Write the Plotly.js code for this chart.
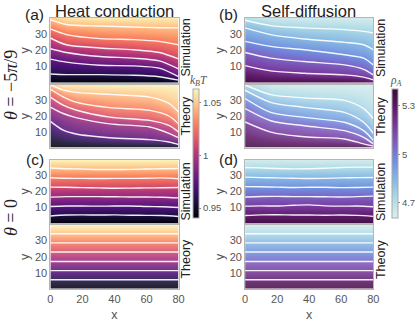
<!DOCTYPE html>
<html>
<head>
<meta charset="utf-8">
<script src="https://cdn.plot.ly/plotly-3.0.1.min.js"></script>
<style>html,body{margin:0;padding:0;background:#fff}#plot{width:415px;height:323px}</style>
</head>
<body>
<div id="plot"></div>
<script>
const W = 415, H = 323;

// value grid
const rowsY = [0, 5, 10, 15, 20, 25, 30, 35, 40];
const colsLeft = [0, 10, 31, 52, 68, 80];
const colsLeftTheory = [0, 8, 16, 37, 62, 74, 80];
const colsRight = [0, 16, 37, 62, 74, 80];
const colsFlat = [0, 80];
const xWiggle = [0, 10, 20, 30, 40, 50, 60, 70, 80];

// kBT fields: one row per rowsY
const zA_sim = [
  [.940, .940, .940, .940, .940, .945],
  [.957, .958, .958, .960, .963, .980],
  [.967, .969, .973, .974, .979, .997],
  [.976, .982, .989, .993, .998, 1.011],
  [.990, .998, 1.005, 1.009, 1.014, 1.021],
  [1.003, 1.015, 1.021, 1.024, 1.027, 1.031],
  [1.018, 1.029, 1.034, 1.036, 1.038, 1.040],
  [1.034, 1.043, 1.046, 1.047, 1.048, 1.048],
  [1.050, 1.058, 1.060, 1.060, 1.060, 1.060]
];
const zA_th = [
  [.940, .940, .940, .940, .940, .940, .945],
  [.951, .956, .960, .968, .975, .980, .988],
  [.961, .972, .977, .983, .986, .996, 1.011],
  [.972, .981, .986, .993, 1.001, 1.013, 1.028],
  [.982, .990, .997, 1.012, 1.018, 1.028, 1.040],
  [.992, 1.004, 1.014, 1.027, 1.031, 1.039, 1.048],
  [1.005, 1.021, 1.032, 1.038, 1.042, 1.049, 1.053],
  [1.021, 1.040, 1.046, 1.049, 1.052, 1.056, 1.058],
  [1.050, 1.060, 1.060, 1.062, 1.063, 1.063, 1.063]
];
const zC_sim = [
  [.940, .940], [.955, .955], [.971, .970], [.986, .985], [1.001, 1.000],
  [1.017, 1.016], [1.032, 1.032], [1.048, 1.048], [1.063, 1.063]
];
const zC_th = [
  [.940, .940], [.955, .955], [.971, .971], [.986, .986], [1.001, 1.001],
  [1.017, 1.017], [1.032, 1.032], [1.048, 1.048], [1.063, 1.063]
];

// rho_A fields
const zB_sim = [
  [5.38, 5.38, 5.38, 5.38, 5.36, 5.30],
  [5.28, 5.23, 5.19, 5.16, 5.13, 5.05],
  [5.18, 5.13, 5.11, 5.08, 5.03, 4.97],
  [5.11, 5.06, 5.03, 4.99, 4.95, 4.90],
  [5.04, 4.99, 4.95, 4.91, 4.88, 4.84],
  [4.96, 4.91, 4.87, 4.84, 4.82, 4.79],
  [4.89, 4.84, 4.80, 4.78, 4.76, 4.75],
  [4.82, 4.75, 4.72, 4.71, 4.70, 4.69],
  [4.70, 4.65, 4.64, 4.63, 4.63, 4.63]
];
const zB_th = [
  [5.38, 5.38, 5.38, 5.38, 5.36, 5.28],
  [5.32, 5.27, 5.23, 5.18, 5.10, 4.94],
  [5.25, 5.17, 5.12, 5.08, 4.97, 4.83],
  [5.19, 5.09, 5.04, 4.97, 4.87, 4.78],
  [5.10, 5.00, 4.93, 4.88, 4.79, 4.73],
  [5.06, 4.90, 4.85, 4.80, 4.74, 4.70],
  [4.97, 4.81, 4.76, 4.74, 4.70, 4.67],
  [4.86, 4.72, 4.70, 4.68, 4.66, 4.65],
  [4.73, 4.65, 4.63, 4.63, 4.63, 4.63]
];
const zD_sim = [
  [5.38, 5.38], [5.29, 5.29], [5.19, 5.19], [5.10, 5.10], [5.00, 5.00],
  [4.91, 4.91], [4.82, 4.82], [4.72, 4.72], [4.63, 4.63]
];
const zD_th = [
  [5.38, 5.38], [5.29, 5.29], [5.19, 5.19], [5.10, 5.10], [5.005, 5.005],
  [4.91, 4.91], [4.82, 4.82], [4.72, 4.72], [4.63, 4.63]
];

// white level lines, y at each x column
const linesA_sim = [
  [39, 36, 35, 34.4, 34, 33.9],
  [33.2, 29.7, 27.2, 26.6, 25.5, 23.4],
  [27.6, 23.4, 21.4, 20.3, 18.6, 14.7],
  [20.9, 18.6, 16.1, 15.1, 13.4, 8.4],
  [14.5, 12.6, 10.7, 10.3, 8.9, 3.6],
  [5.3, 4.9, 4.9, 4.5, 3.6, 1.5]
];
const linesA_th = [
  [39.7, 36.5, 35, 33.7, 32, 28, 22.5],
  [37, 32.2, 28.8, 25.3, 23.6, 20, 15],
  [32, 26.9, 23.8, 19.3, 17.2, 14, 9.8],
  [25.7, 21.6, 19, 15, 13, 9, 6.2],
  [16.6, 11, 8.6, 6.2, 5, 3.5, 1.9]
];
const linesB_sim = [
  [38.6, 35.3, 33.9, 32.8, 31.7, 30.7],
  [33.9, 29.7, 27, 24.9, 23.4, 20.3],
  [25.5, 22.4, 20.3, 17.2, 15.1, 10.9],
  [18.6, 15.1, 13, 10.9, 8.2, 4.7],
  [10.5, 7.2, 5.7, 4.7, 3.3, 1.6]
];
const linesB_th = [
  [39.7, 33.6, 31.5, 29.9, 24.7, 18.4],
  [36.4, 28.7, 25.5, 22.3, 16, 9],
  [31.1, 22.3, 19.1, 16, 10.7, 4.5],
  [24.7, 17, 13.8, 10.7, 6.5, 2.3],
  [16.2, 9.8, 6.8, 5.4, 2.3, 0.9]
];
const linesC_sim = [
  [34.6, 34.2, 34, 33.7, 33.7, 33.8, 34, 34.2, 34.3],
  [28.5, 28.2, 28.1, 28, 28.1, 28.1, 28.2, 28.4, 27.9],
  [22.6, 22.5, 22.3, 22.1, 21.9, 22, 22.1, 22.2, 22.4],
  [16.3, 16.6, 16.6, 16.6, 16.5, 16.4, 16.4, 16.2, 15.8],
  [10.4, 10.7, 10.7, 10.6, 10.7, 10.7, 10.4, 10.2, 9.8],
  [4.4, 5, 5.1, 5, 5.1, 4.9, 4.8, 4.7, 4.1]
];
const linesD_sim = [
  [35, 34.7, 34.3, 34.1, 34.2, 34.5, 35, 35.2, 35.2],
  [28.9, 28.6, 28.4, 28.2, 28, 28.1, 28.4, 28.6, 28.7],
  [22.9, 22.8, 22.6, 22.4, 22.5, 22.5, 22.3, 22.4, 22.6],
  [16.4, 16.7, 16.8, 16.6, 16.6, 16.5, 16.4, 16.6, 16.9],
  [10.6, 10.8, 10.7, 11.2, 11.4, 10.8, 10.6, 10.7, 10.2],
  [4.7, 5.1, 5.2, 5, 5, 4.9, 5, 4.8, 4.2]
];
const linesFlat_th = [
  [34.3, 34.3], [28.6, 28.6], [22.9, 22.9], [17.1, 17.1], [11.4, 11.4], [5.7, 5.7]
];

const kbtTicks = [0.95, 1, 1.05];
const kbtLabels = ['0.95', '1', '1.05'];
const rhoTicks = [4.7, 5, 5.3];
const rhoLabels = ['4.7', '5', '5.3'];

const magma = [[0, '#000004'], [.125, '#1c1044'], [.25, '#4f127b'], [.375, '#812581'], [.5, '#b5367a'],
  [.625, '#e55c63'], [.75, '#fb8761'], [.875, '#fec287'], [1, '#fcf5b8']];
const dense = [[0, '#dcefef'], [.15, '#aedbe6'], [.3, '#86b6e4'], [.45, '#6f8cde'], [.55, '#7b68c8'],
  [.7, '#7a3ca0'], [.85, '#5f1b6a'], [1, '#3a0d3a']];

const leftCol = [50.5, 179], rightCol = [245.7, 374.2];
const rowPx = [[18, 82.5], [84.5, 147.5], [159.5, 223], [224.5, 289]];

const panels = [
  {z: zA_sim, xs: colsLeft, lines: linesA_sim, lx: colsLeft, col: leftCol, row: 0, kind: 'T'},
  {z: zA_th, xs: colsLeftTheory, lines: linesA_th, lx: colsLeftTheory, col: leftCol, row: 1, kind: 'T', theory: true},
  {z: zC_sim, xs: colsFlat, lines: linesC_sim, lx: xWiggle, col: leftCol, row: 2, kind: 'T'},
  {z: zC_th, xs: colsFlat, lines: linesFlat_th, lx: colsFlat, col: leftCol, row: 3, kind: 'T', theory: true},
  {z: zB_sim, xs: colsRight, lines: linesB_sim, lx: colsRight, col: rightCol, row: 0, kind: 'R'},
  {z: zB_th, xs: colsRight, lines: linesB_th, lx: colsRight, col: rightCol, row: 1, kind: 'R', theory: true},
  {z: zD_sim, xs: colsFlat, lines: linesD_sim, lx: xWiggle, col: rightCol, row: 2, kind: 'R'},
  {z: zD_th, xs: colsFlat, lines: linesFlat_th, lx: colsFlat, col: rightCol, row: 3, kind: 'R', theory: true}
];

const traces = [];
const layout = {
  width: W, height: H,
  margin: {l: 0, r: 0, t: 0, b: 0},
  paper_bgcolor: '#fff',
  plot_bgcolor: '#fff',
  font: {family: 'Liberation Sans, Arial, sans-serif', color: '#555', size: 11},
  showlegend: false,
  annotations: []
};

function cbar(ticks, labels, x) {
  return {
    x: x / W, xanchor: 'left', xpad: 0,
    y: 1 - 153.5 / H, yanchor: 'middle', ypad: 0,
    thickness: 6, thicknessmode: 'pixels',
    len: 129, lenmode: 'pixels',
    outlinecolor: '#aaa', outlinewidth: 1,
    ticks: 'outside', ticklen: 2, tickcolor: '#888',
    tickvals: ticks, ticktext: labels,
    tickfont: {size: 9.5, color: '#555'}
  };
}

panels.forEach((p, i) => {
  const n = i === 0 ? '' : i + 1;
  const xname = 'x' + n, yname = 'y' + n;
  const isT = p.kind === 'T';
  traces.push({
    type: 'heatmap', x: p.xs, y: rowsY, z: p.z,
    xaxis: xname, yaxis: yname,
    zsmooth: 'best',
    opacity: p.theory ? 0.88 : 1,
    colorscale: isT ? magma : dense,
    zmin: isT ? 0.9405 : 4.607,
    zmax: isT ? 1.063 : 5.405,
    showscale: p.row === 0,
    colorbar: isT ? cbar(kbtTicks, kbtLabels, 193.3) : cbar(rhoTicks, rhoLabels, 391.7)
  });
  p.lines.forEach(ly => {
    traces.push({
      type: 'scatter', mode: 'lines', x: p.lx, y: ly,
      xaxis: xname, yaxis: yname,
      line: {color: 'rgba(255,255,255,0.92)', width: 1.4, shape: 'spline', smoothing: 0.8},
      hoverinfo: 'skip'
    });
  });
  const bottom = p.row === 3;
  layout['xaxis' + n] = {
    domain: [p.col[0] / W, p.col[1] / W],
    range: [0, 80], anchor: yname,
    tickvals: [0, 20, 40, 60, 80],
    showticklabels: bottom,
    showgrid: false, zeroline: false,
    showline: true, mirror: true, linecolor: '#b5b5b5', linewidth: 1,
    ticks: '', tickfont: {size: 11, color: '#555'}
  };
  if (bottom) layout['xaxis' + n].title = {text: 'x', font: {size: 12.5, color: '#555'}, standoff: 6};
  layout['yaxis' + n] = {
    domain: [1 - rowPx[p.row][1] / H, 1 - rowPx[p.row][0] / H],
    range: [0, 40], anchor: xname,
    tickvals: [10, 20, 30],
    showgrid: false, zeroline: false,
    showline: true, mirror: true, linecolor: '#b5b5b5', linewidth: 1,
    ticks: '', tickfont: {size: 11, color: '#555'},
    title: {text: 'y', font: {size: 12.5, color: '#555'}, standoff: 2}
  };
});

function note(text, x, y, size, opts) {
  layout.annotations.push(Object.assign({
    text: text, x: x / W, y: 1 - y / H, xref: 'paper', yref: 'paper',
    xanchor: 'center', yanchor: 'middle', showarrow: false,
    font: {size: size, color: '#222'}
  }, opts || {}));
}

note('Heat conduction', 114.5, 11, 16.5);
note('Self-diffusion', 309, 11, 16.5);
note('(a)', 35, 14, 15.5);
note('(b)', 229, 14, 15.5);
note('(c)', 35, 160, 15.5);
note('(d)', 229, 160, 15.5);
note('Simulation', 186, 48, 12.5, {textangle: -90});
note('Theory', 186, 116, 12.5, {textangle: -90});
note('Simulation', 186, 192, 12.5, {textangle: -90});
note('Theory', 186, 259, 12.5, {textangle: -90});
note('Simulation', 382, 48, 12.5, {textangle: -90});
note('Theory', 382, 116, 12.5, {textangle: -90});
note('Simulation', 382, 192, 12.5, {textangle: -90});
note('Theory', 382, 259, 12.5, {textangle: -90});
const serif = 'Liberation Serif, serif';
note('<i>θ</i> = −5<i>π</i>/9', 11, 85, 18, {textangle: -90, font: {size: 18, color: '#222', family: serif}});
note('<i>θ</i> = 0', 11, 217, 18, {textangle: -90, font: {size: 18, color: '#222', family: serif}});
note('<i>k<sub>B</sub>T</i>', 199, 81, 11.5, {font: {size: 11.5, color: '#555', family: serif}});
note('<i>ρ<sub>A</sub></i>', 397, 81, 11.5, {font: {size: 11.5, color: '#555', family: serif}});

Plotly.newPlot('plot', traces, layout, {staticPlot: true, displayModeBar: false});
</script>
</body>
</html>
